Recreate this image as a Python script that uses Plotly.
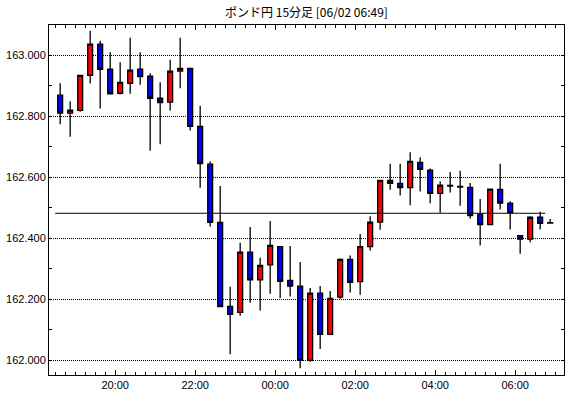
import plotly.graph_objects as go

title_text = "ポンド円 15分足 [06/02 06:49]"

times = [
    "2022-06-01 18:30", "2022-06-01 18:45", "2022-06-01 19:00", "2022-06-01 19:15", "2022-06-01 19:30",
    "2022-06-01 19:45", "2022-06-01 20:00", "2022-06-01 20:15", "2022-06-01 20:30", "2022-06-01 20:45",
    "2022-06-01 21:00", "2022-06-01 21:15", "2022-06-01 21:30", "2022-06-01 21:45", "2022-06-01 22:00",
    "2022-06-01 22:15", "2022-06-01 22:30", "2022-06-01 22:45", "2022-06-01 23:00", "2022-06-01 23:15",
    "2022-06-01 23:30", "2022-06-01 23:45", "2022-06-02 00:00", "2022-06-02 00:15", "2022-06-02 00:30",
    "2022-06-02 00:45", "2022-06-02 01:00", "2022-06-02 01:15", "2022-06-02 01:30", "2022-06-02 01:45",
    "2022-06-02 02:00", "2022-06-02 02:15", "2022-06-02 02:30", "2022-06-02 02:45", "2022-06-02 03:00",
    "2022-06-02 03:15", "2022-06-02 03:30", "2022-06-02 03:45", "2022-06-02 04:00", "2022-06-02 04:15",
    "2022-06-02 04:30", "2022-06-02 04:45", "2022-06-02 05:00", "2022-06-02 05:15", "2022-06-02 05:30",
    "2022-06-02 05:45", "2022-06-02 06:00", "2022-06-02 06:15", "2022-06-02 06:30", "2022-06-02 06:45",
]

opens = [162.869, 162.810, 162.819, 162.934, 163.036, 162.954, 162.875, 162.908, 162.954, 162.931,
         162.859, 162.846, 162.948, 162.957, 162.767, 162.643, 162.452, 162.177, 162.157, 162.355,
         162.264, 162.313, 162.373, 162.262, 162.243, 162.000, 162.220, 162.085, 162.207, 162.331,
         162.258, 162.373, 162.453, 162.590, 162.580, 162.566, 162.649, 162.623, 162.547, 162.573,
         162.570, 162.567, 162.478, 162.445, 162.560, 162.515, 162.409, 162.397, 162.469, 162.451]

highs = [162.908, 162.849, 162.935, 163.080, 163.047, 163.010, 162.977, 163.057, 163.010, 162.941,
         162.911, 162.985, 163.057, 162.957, 162.834, 162.652, 162.571, 162.241, 162.385, 162.437,
         162.336, 162.457, 162.373, 162.375, 162.322, 162.237, 162.244, 162.227, 162.334, 162.344,
         162.414, 162.472, 162.592, 162.644, 162.644, 162.682, 162.666, 162.629, 162.587, 162.617,
         162.621, 162.581, 162.529, 162.563, 162.644, 162.521, 162.409, 162.472, 162.487, 162.463]

lows = [162.774, 162.733, 162.815, 162.907, 162.825, 162.871, 162.871, 162.874, 162.903, 162.687,
        162.708, 162.819, 162.892, 162.753, 162.566, 162.439, 162.176, 162.020, 162.146, 162.189,
        162.163, 162.218, 162.204, 162.209, 161.974, 161.995, 162.037, 162.085, 162.202, 162.222,
        162.215, 162.360, 162.428, 162.559, 162.540, 162.508, 162.553, 162.515, 162.484, 162.550,
        162.507, 162.464, 162.376, 162.445, 162.494, 162.429, 162.349, 162.387, 162.429, 162.449]

closes = [162.810, 162.820, 162.934, 163.036, 162.954, 162.873, 162.911, 162.951, 162.930, 162.859,
          162.845, 162.948, 162.957, 162.767, 162.645, 162.452, 162.176, 162.151, 162.355, 162.264,
          162.311, 162.377, 162.259, 162.243, 162.000, 162.220, 162.085, 162.203, 162.331, 162.256,
          162.373, 162.453, 162.590, 162.580, 162.566, 162.652, 162.626, 162.547, 162.574, 162.571,
          162.568, 162.474, 162.445, 162.561, 162.515, 162.483, 162.397, 162.469, 162.449, 162.450]

ref_level = 162.482

y_tickvals = [162.0, 162.2, 162.4, 162.6, 162.8, 163.0]
y_ticktext = ["162.000", "162.200", "162.400", "162.600", "162.800", "163.000"]

fig = go.Figure()

fig.add_trace(go.Candlestick(
    x=times, open=opens, high=highs, low=lows, close=closes,
    xperiod=900000, xperiodalignment="middle",
    increasing=dict(fillcolor="#FF0000", line=dict(color="#000000", width=1.3)),
    decreasing=dict(fillcolor="#0000FF", line=dict(color="#000000", width=1.3)),
    whiskerwidth=0, hoverinfo="skip",
))

fig.add_trace(go.Scatter(
    x=[times[0], times[-1]], y=[ref_level, ref_level], mode="lines",
    line=dict(color="#000000", width=1.2), hoverinfo="skip",
))

fig.update_layout(
    width=570, height=398,
    margin=dict(l=49, r=6, t=25, b=23),
    paper_bgcolor="white", plot_bgcolor="white",
    showlegend=False,
    font=dict(family="Liberation Sans", size=11, color="black"),
    title=dict(text=title_text, x=0.5, xref="paper", y=1 - 13 / 398, yref="container",
               yanchor="middle", xanchor="center",
               font=dict(family="Noto Sans CJK JP", size=12, color="black")),
)

fig.update_xaxes(
    type="date",
    range=["2022-06-01 18:20:45", "2022-06-02 07:13:15"],
    rangeslider=dict(visible=False),
    showline=True, linecolor="black", linewidth=1, mirror="ticks",
    ticks="inside", ticklen=5, tickcolor="black", tickwidth=1,
    tick0="2022-06-01 20:00", dtick=7200000, tickformat="%H:%M",
    minor=dict(dtick=900000, ticks="inside", ticklen=3, tickcolor="black", showgrid=False),
    showgrid=False, zeroline=False,
)

fig.update_yaxes(
    range=[161.952, 163.099],
    showline=True, linecolor="black", linewidth=1, mirror="ticks",
    ticks="inside", ticklen=3, tickcolor="black", tickwidth=1,
    tickvals=y_tickvals, ticktext=y_ticktext,
    minor=dict(dtick=0.1, tick0=162.0, ticks="inside", ticklen=3, tickcolor="black", showgrid=False),
    showgrid=True, gridcolor="black", gridwidth=1, griddash="1px,1px",
    zeroline=False,
)

fig.write_html("out.html")
